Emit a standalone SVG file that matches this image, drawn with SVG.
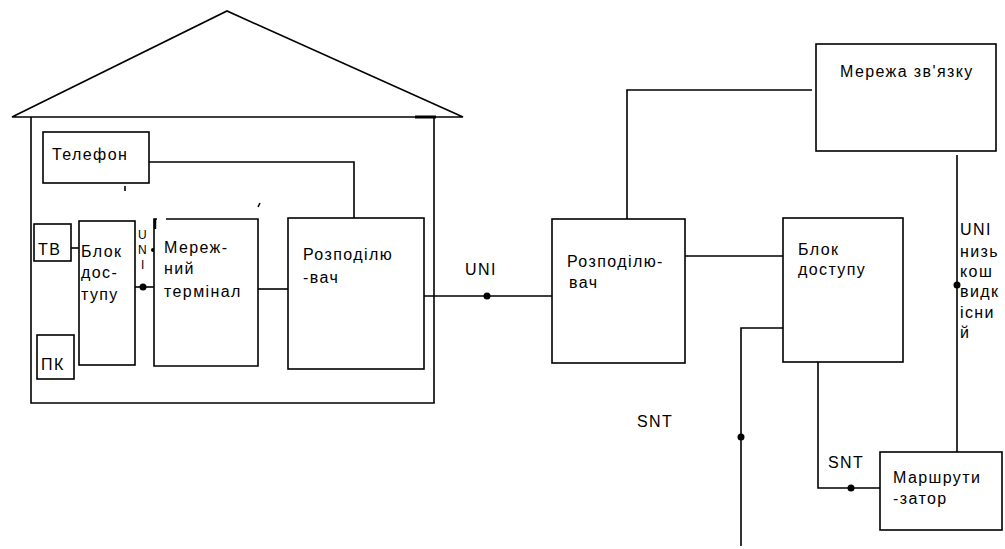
<svg xmlns="http://www.w3.org/2000/svg" width="1005" height="549" viewBox="0 0 1005 549">
<style>
.ln{fill:none;stroke:#000;stroke-width:1.6}
.bx{fill:#fff;stroke:#000;stroke-width:1.6}
.t{font-family:"Liberation Sans",Arial,sans-serif;font-size:16px;letter-spacing:1.4px;fill:#000}
.s{font-family:"Liberation Sans",Arial,sans-serif;font-size:12px;fill:#000}
.dot{fill:#000}
</style>
<rect width="1005" height="549" fill="#fff"/>
<g id="house">
<path class="ln" d="M12,117 L227,11 L463,117 Z"/>
<path class="ln" d="M31,117 V403 H434 V117"/>
<path d="M415,117 H436" stroke="#000" stroke-width="3"/>
</g>
<g id="connectors">
<path class="ln" d="M149,162 H354 V218"/>
<path class="ln" d="M71,248 H79"/>
<path class="ln" d="M135,287 H154"/>
<path class="ln" d="M258,289 H288"/>
<path class="ln" d="M424,296 H552"/>
<path class="ln" d="M627,219 V90 H812"/>
<path class="ln" d="M685,256 H783"/>
<path class="ln" d="M783,328 H741 V546"/>
<path class="ln" d="M818,362 V488 H880"/>
<path class="ln" d="M957,155 V452"/>
<path class="ln" d="M125,186 V191"/>
<path class="ln" d="M260,203 L258,207"/>
<circle class="dot" cx="143" cy="287" r="3.5"/>
<circle class="dot" cx="153" cy="250" r="2"/>
<circle class="dot" cx="487" cy="296" r="3.5"/>
<circle class="dot" cx="741" cy="437" r="3.5"/>
<circle class="dot" cx="851" cy="488" r="3.5"/>
<circle class="dot" cx="957" cy="285" r="3.5"/>
</g>
<g id="phone">
<rect class="bx" x="43" y="132" width="106" height="51"/>
<text class="t" x="52" y="160">Телефон</text>
</g>
<g id="tv">
<rect class="bx" x="34" y="224" width="37" height="37"/>
<text class="t" x="38" y="255">ТВ</text>
</g>
<g id="pc">
<rect class="bx" x="37" y="335" width="37" height="44"/>
<text class="t" x="41" y="370">ПК</text>
</g>
<g id="access-home">
<rect class="bx" x="79" y="221" width="56" height="144"/>
<text class="t" x="81" y="257">Блок</text>
<text class="t" x="81" y="278">дос-</text>
<text class="t" x="81" y="300">тупу</text>
</g>
<g id="uni-vertical">
<text class="s" x="138" y="239">U</text>
<text class="s" x="138" y="254">N</text>
<text class="s" x="141" y="269">I</text>
</g>
<g id="terminal">
<path class="bx" d="M166,219 H258 V366 H154 V219 H157"/>
<path d="M155,219 V229" stroke="#000" stroke-width="2.5"/>
<text class="t" x="164" y="253">Мереж-</text>
<text class="t" x="164" y="274">ний</text>
<text class="t" x="164" y="297">термінал</text>
</g>
<g id="splitter-home">
<rect class="bx" x="288" y="218" width="136" height="151"/>
<text class="t" x="303" y="260">Розподілю</text>
<text class="t" x="303" y="283">-вач</text>
</g>
<g id="uni-label">
<text class="t" x="465" y="275">UNI</text>
</g>
<g id="splitter">
<rect class="bx" x="552" y="219" width="133" height="144"/>
<text class="t" x="567" y="267">Розподілю-</text>
<text class="t" x="569" y="288">вач</text>
</g>
<g id="network">
<rect class="bx" x="816" y="44" width="180" height="107"/>
<text class="t" x="840" y="77">Мережа зв'язку</text>
</g>
<g id="access">
<rect class="bx" x="783" y="218" width="120" height="144"/>
<text class="t" x="798" y="255">Блок</text>
<text class="t" x="798" y="275">доступу</text>
</g>
<g id="router">
<rect class="bx" x="880" y="452" width="122" height="78"/>
<text class="t" x="893" y="483">Маршрути</text>
<text class="t" x="893" y="504">-затор</text>
</g>
<g id="labels">
<text class="t" x="637" y="427">SNT</text>
<text class="t" x="828" y="468">SNT</text>
<text class="t" x="960" y="235">UNI</text>
<text class="t" x="960" y="257">низь</text>
<text class="t" x="960" y="277">кош</text>
<text class="t" x="960" y="297">видк</text>
<text class="t" x="960" y="318">існи</text>
<text class="t" x="960" y="338">й</text>
</g>
</svg>
